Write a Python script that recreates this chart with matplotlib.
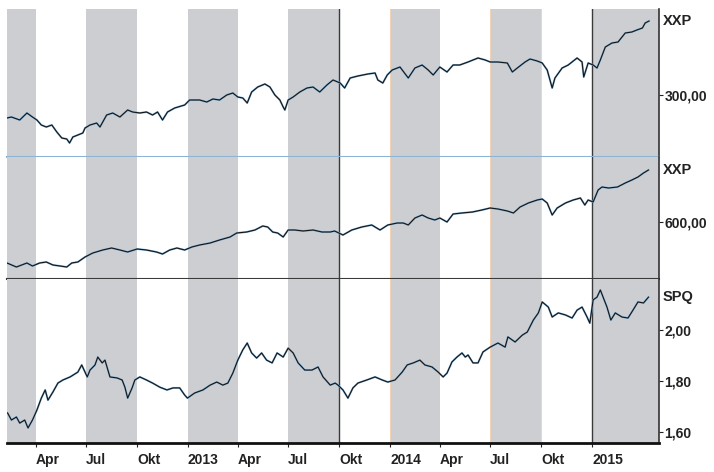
import numpy as np
import pandas as pd
import matplotlib
matplotlib.use('Agg')
import matplotlib.pyplot as plt
import matplotlib.transforms as mtransforms

plt.rcParams['font.family'] = ['Liberation Sans', 'DejaVu Sans']

# --- data ---
top_dates = ['2012-02-09', '2012-02-17', '2012-03-03', '2012-03-16', '2012-03-26', '2012-04-03', '2012-04-11',
             '2012-04-20', '2012-04-30', '2012-05-09', '2012-05-18', '2012-05-27', '2012-06-01', '2012-06-07',
             '2012-06-16', '2012-06-25', '2012-06-29', '2012-07-08', '2012-07-20', '2012-07-26', '2012-08-07',
             '2012-08-18', '2012-08-31', '2012-09-14', '2012-09-23', '2012-10-06', '2012-10-18', '2012-10-29',
             '2012-11-07', '2012-11-16', '2012-11-25', '2012-12-08', '2012-12-26', '2013-01-04', '2013-01-22',
             '2013-02-04', '2013-02-15', '2013-02-27', '2013-03-12', '2013-03-23', '2013-04-01', '2013-04-10',
             '2013-04-18', '2013-04-26', '2013-05-07', '2013-05-20', '2013-05-29', '2013-06-07', '2013-06-16',
             '2013-06-22', '2013-06-25', '2013-07-01', '2013-07-10', '2013-07-22', '2013-08-04', '2013-08-15',
             '2013-08-27', '2013-09-09', '2013-09-20', '2013-10-03', '2013-10-11', '2013-10-21', '2013-11-04',
             '2013-11-22', '2013-12-05', '2013-12-10', '2013-12-19', '2013-12-27', '2014-01-05', '2014-01-19',
             '2014-02-03', '2014-02-15', '2014-02-28', '2014-03-11', '2014-03-20', '2014-04-01', '2014-04-14',
             '2014-04-25', '2014-05-07', '2014-05-22', '2014-06-09', '2014-06-22', '2014-07-01', '2014-07-15',
             '2014-08-01', '2014-08-10', '2014-08-19', '2014-09-02', '2014-09-11', '2014-09-24', '2014-10-03',
             '2014-10-12', '2014-10-17', '2014-10-21', '2014-10-26', '2014-11-08', '2014-11-19', '2014-12-05',
             '2014-12-14', '2014-12-17', '2014-12-25', '2015-01-03', '2015-01-10', '2015-01-16', '2015-01-25',
             '2015-02-06', '2015-02-17', '2015-03-02', '2015-03-14', '2015-03-23', '2015-04-02', '2015-04-07',
             '2015-04-14']
top_vals = [286.2, 286.8, 285.0, 289.2, 286.8, 285.0, 282.0, 280.8, 282.0, 277.8,
            274.2, 273.6, 271.2, 274.8, 276.0, 277.2, 280.2, 282.0, 283.2, 280.8,
            288.0, 289.2, 286.8, 291.0, 289.8, 289.2, 289.8, 288.0, 289.8, 285.0,
            289.8, 292.2, 294.0, 297.0, 297.0, 295.8, 297.6, 297.0, 300.0, 301.2,
            298.8, 298.2, 295.2, 301.8, 304.8, 306.6, 304.8, 300.0, 297.0, 292.8,
            291.0, 297.0, 298.8, 301.8, 304.2, 304.8, 301.8, 306.0, 309.0, 307.2,
            304.2, 310.2, 311.4, 312.6, 313.2, 309.0, 307.2, 312.0, 315.0, 316.8,
            310.2, 316.2, 318.0, 315.0, 312.0, 316.8, 313.8, 318.0, 318.0, 319.8,
            322.2, 321.0, 319.8, 319.8, 319.2, 313.8, 316.2, 319.8, 321.6, 320.4,
            319.2, 315.0, 309.0, 304.2, 310.2, 316.2, 318.0, 322.2, 319.8, 310.8,
            319.2, 318.0, 316.2, 321.0, 328.8, 331.2, 331.8, 337.2, 337.8, 339.0,
            340.2, 343.2, 344.4]

mid_dates = ['2012-02-09', '2012-02-26', '2012-03-16', '2012-03-26', '2012-04-08', '2012-04-20', '2012-05-02',
             '2012-05-15', '2012-05-27', '2012-06-05', '2012-06-16', '2012-06-29', '2012-07-13', '2012-07-31',
             '2012-08-16', '2012-08-31', '2012-09-14', '2012-10-01', '2012-10-18', '2012-11-05', '2012-11-16',
             '2012-11-29', '2012-12-12', '2012-12-26', '2013-01-08', '2013-01-22', '2013-02-10', '2013-02-27',
             '2013-03-18', '2013-03-30', '2013-04-17', '2013-05-02', '2013-05-16', '2013-05-25', '2013-06-03',
             '2013-06-12', '2013-06-22', '2013-07-01', '2013-07-13', '2013-07-28', '2013-08-15', '2013-08-31',
             '2013-09-15', '2013-09-23', '2013-10-08', '2013-10-24', '2013-11-11', '2013-11-29', '2013-12-14',
             '2013-12-28', '2014-01-14', '2014-01-25', '2014-02-03', '2014-02-15', '2014-02-28', '2014-03-11',
             '2014-03-23', '2014-04-01', '2014-04-14', '2014-04-25', '2014-05-11', '2014-05-30', '2014-06-16',
             '2014-07-01', '2014-07-15', '2014-08-01', '2014-08-12', '2014-08-24', '2014-09-08', '2014-09-24',
             '2014-10-03', '2014-10-12', '2014-10-21', '2014-10-30', '2014-11-14', '2014-11-28', '2014-12-11',
             '2014-12-19', '2014-12-25', '2015-01-03', '2015-01-12', '2015-01-19', '2015-01-31', '2015-02-16',
             '2015-03-02', '2015-03-14', '2015-03-25', '2015-04-04', '2015-04-13']
mid_vals = [550.8, 546.0, 550.8, 547.2, 550.8, 552.0, 548.4, 547.2, 546.0, 550.8,
            552.0, 558.0, 562.8, 566.4, 568.8, 566.4, 564.0, 567.6, 566.4, 564.0,
            561.6, 566.4, 568.8, 566.4, 570.0, 572.4, 574.8, 578.4, 582.0, 586.8,
            588.0, 590.4, 595.2, 594.0, 588.0, 586.8, 582.0, 590.4, 590.4, 589.2,
            590.4, 588.0, 588.0, 589.2, 584.4, 590.4, 594.0, 596.4, 590.4, 596.4,
            598.8, 598.8, 596.4, 604.8, 608.4, 604.8, 602.4, 604.8, 600.0, 609.6,
            610.8, 612.0, 614.4, 616.8, 615.6, 613.2, 610.8, 618.0, 622.8, 626.4,
            627.6, 622.8, 608.4, 616.8, 622.8, 626.4, 628.8, 620.4, 626.4, 624.0,
            638.4, 642.0, 640.8, 642.0, 646.8, 650.4, 654.0, 658.8, 662.4]

spq_dates = ['2012-02-10', '2012-02-17', '2012-02-26', '2012-03-03', '2012-03-12', '2012-03-18', '2012-03-26',
             '2012-04-03', '2012-04-11', '2012-04-18', '2012-04-23', '2012-05-02', '2012-05-11', '2012-05-20',
             '2012-06-02', '2012-06-16', '2012-06-23', '2012-07-03', '2012-07-08', '2012-07-17', '2012-07-22',
             '2012-07-30', '2012-08-04', '2012-08-13', '2012-08-26', '2012-09-04', '2012-09-09', '2012-09-14',
             '2012-09-22', '2012-09-27', '2012-10-06', '2012-10-18', '2012-10-29', '2012-11-11', '2012-11-24',
             '2012-12-05', '2012-12-17', '2012-12-26', '2012-12-31', '2013-01-13', '2013-01-28', '2013-02-10',
             '2013-02-22', '2013-03-05', '2013-03-14', '2013-03-23', '2013-04-01', '2013-04-10', '2013-04-18',
             '2013-04-26', '2013-05-05', '2013-05-14', '2013-05-23', '2013-06-02', '2013-06-11', '2013-06-22',
             '2013-07-01', '2013-07-10', '2013-07-19', '2013-07-31', '2013-08-13', '2013-08-24', '2013-09-02',
             '2013-09-15', '2013-09-24', '2013-09-29', '2013-10-08', '2013-10-17', '2013-10-26', '2013-11-04',
             '2013-11-20', '2013-12-05', '2013-12-18', '2013-12-28', '2014-01-10', '2014-01-23', '2014-02-01',
             '2014-02-12', '2014-02-24', '2014-03-05', '2014-03-18', '2014-03-29', '2014-04-07', '2014-04-14',
             '2014-04-23', '2014-05-02', '2014-05-11', '2014-05-17', '2014-05-22', '2014-05-31', '2014-06-09',
             '2014-06-18', '2014-07-01', '2014-07-15', '2014-07-28', '2014-08-02', '2014-08-15', '2014-08-28',
             '2014-09-06', '2014-09-17', '2014-09-26', '2014-10-03', '2014-10-14', '2014-10-21', '2014-11-01',
             '2014-11-14', '2014-11-26', '2014-12-05', '2014-12-14', '2014-12-23', '2014-12-28', '2015-01-03',
             '2015-01-10', '2015-01-16', '2015-01-21', '2015-01-28', '2015-02-04', '2015-02-12', '2015-02-24',
             '2015-03-07', '2015-03-16', '2015-03-25', '2015-04-04', '2015-04-13']
spq_vals = [1.675, 1.647, 1.659, 1.635, 1.647, 1.616, 1.647, 1.686, 1.733, 1.765,
            1.725, 1.757, 1.792, 1.804, 1.816, 1.835, 1.863, 1.816, 1.843, 1.863,
            1.894, 1.871, 1.882, 1.816, 1.812, 1.804, 1.776, 1.733, 1.773, 1.804,
            1.816, 1.804, 1.792, 1.776, 1.765, 1.773, 1.773, 1.745, 1.733, 1.753,
            1.765, 1.784, 1.796, 1.784, 1.792, 1.831, 1.882, 1.922, 1.949, 1.910,
            1.890, 1.910, 1.882, 1.871, 1.910, 1.894, 1.929, 1.910, 1.871, 1.843,
            1.843, 1.855, 1.816, 1.784, 1.792, 1.784, 1.765, 1.733, 1.773, 1.792,
            1.804, 1.816, 1.804, 1.796, 1.804, 1.835, 1.863, 1.871, 1.882, 1.863,
            1.855, 1.835, 1.816, 1.831, 1.875, 1.894, 1.910, 1.894, 1.902, 1.871,
            1.871, 1.914, 1.933, 1.949, 1.933, 1.973, 1.953, 1.980, 1.992, 2.039,
            2.067, 2.110, 2.090, 2.051, 2.067, 2.059, 2.047, 2.078, 2.090, 2.051,
            2.027, 2.118, 2.129, 2.157, 2.129, 2.090, 2.039, 2.067, 2.051, 2.047,
            2.078, 2.110, 2.106, 2.129]

shade_starts = ['2012-01-01', '2012-07-01', '2013-01-01', '2013-07-01', '2014-01-01', '2014-07-01', '2015-01-01']
shade_ends = ['2012-04-01', '2012-10-01', '2013-04-01', '2013-10-01', '2014-04-01', '2014-10-01', '2015-06-01']

xtick_dates = ['2012-04-01', '2012-07-01', '2012-10-01', '2013-01-01', '2013-04-01', '2013-07-01',
               '2013-10-01', '2014-01-01', '2014-04-01', '2014-07-01', '2014-10-01', '2015-01-01']
xtick_labels = ['Apr', 'Jul', 'Okt', '2013', 'Apr', 'Jul', 'Okt', '2014', 'Apr', 'Jul', 'Okt', '2015']

x_start, x_end = pd.Timestamp('2012-02-09'), pd.Timestamp('2015-05-02')

W, H = 714, 472
fig = plt.figure(figsize=(W / 100, H / 100), dpi=100)

# (name, dates, values, ylim, yticks, yticklabels, pixel top, pixel bottom, bottom line colour)
panels = [
    ('XXP', top_dates, top_vals, (262.8, 351.6), [300], ['300,00'], 9, 157, '#8db3d5'),
    ('XXP', mid_dates, mid_vals, (531.6, 678.0), [600], ['600,00'], 157, 279, '#3a3a3a'),
    ('SPQ', spq_dates, spq_vals, (1.557, 2.2), [1.6, 1.8, 2.0], ['1,60', '1,80', '2,00'], 279, 443, '#111111'),
]

for i, (name, dts, vals, ylim, yt, ytl, ptop, pbot, bcol) in enumerate(panels):
    ax = fig.add_axes([7 / W, 1 - pbot / H, (659 - 7) / W, (pbot - ptop) / H])
    for s, e in zip(shade_starts, shade_ends):
        ax.axvspan(pd.Timestamp(s), pd.Timestamp(e), color='#cdced2', lw=0, zorder=0)
    for d in ['2013-10-01', '2015-01-01']:
        ax.axvline(pd.Timestamp(d), color='#3a3a3a', lw=1.0, zorder=1)
    for d in ['2014-01-01', '2014-07-01', '2014-10-01']:
        ax.axvline(pd.Timestamp(d), color='#f3d3b4', lw=0.7, zorder=1)
    d = pd.to_datetime(dts)
    ax.plot(d, vals, color='#7fb0d6', lw=1.4, zorder=2)
    ax.plot(d, vals, color='#141414', lw=0.8, zorder=3)
    ax.set_xlim(x_start, x_end)
    ax.set_ylim(*ylim)

    ax.yaxis.tick_right()
    ax.set_yticks(yt, ytl)
    ax.tick_params(axis='y', length=3, width=0.8, pad=1, labelsize=10, colors='#222222')
    for lab in ax.get_yticklabels():
        lab.set_fontweight('bold')

    ax.spines['left'].set_visible(False)
    ax.spines['top'].set_visible(False)
    ax.spines['right'].set_color('#333333')
    ax.spines['right'].set_linewidth(1.2)
    ax.spines['bottom'].set_color(bcol)
    ax.spines['bottom'].set_linewidth(1.5 if i < 2 else 2.0)

    trans = mtransforms.blended_transform_factory(ax.transAxes, ax.transData)
    ax.text(1.006, vals[-1], name, transform=trans, va='center', ha='left',
            fontsize=10.5, fontweight='bold', color='#222222')

    if i < 2:
        ax.tick_params(axis='x', bottom=False, labelbottom=False)
    else:
        ax.set_xticks(pd.to_datetime(xtick_dates), xtick_labels)
        ax.tick_params(axis='x', length=3, width=0.8, pad=4, labelsize=10, colors='#222222')
        for lab in ax.get_xticklabels():
            lab.set_ha('left')
            lab.set_fontweight('bold')

fig.savefig('out.png', dpi=100)
